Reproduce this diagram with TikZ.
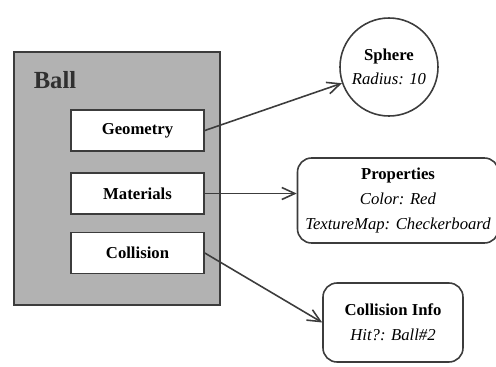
\documentclass[tikz,border=0pt]{standalone}
\usepackage{fontspec}
\setmainfont{Liberation Serif}
\usepackage{tikz}
\usetikzlibrary{
  arrows.meta,
  positioning,
  shapes.geometric
}
\definecolor{inkgray}{RGB}{60,60,60}
\definecolor{ballgray}{RGB}{178,178,178}

\begin{document}
\begin{tikzpicture}[
  part/.style={draw=inkgray, line width=0.9pt, fill=white, minimum width=2.66cm, minimum height=0.82cm, font=\fontsize{9.5}{12}\selectfont\bfseries, inner sep=1pt},
  info/.style={draw=inkgray, line width=0.9pt, rounded corners=8pt, align=center, font=\fontsize{9.5}{14}\selectfont, inner sep=1pt},
  link/.style={draw=inkgray, line width=0.9pt, -{Straight Barb[length=2.6mm, width=2.4mm]}},
]
\useasboundingbox (0,0) rectangle (9.92,-7.32);

% --- Ball object ---
\node[draw=inkgray, line width=1.3pt, fill=ballgray, minimum width=4.12cm, minimum height=5.06cm] (ball) at (2.34,-3.57) {};
\node[font=\fontsize{14}{16}\selectfont\bfseries, text=inkgray!80!black] (balllbl) at (1.10,-1.60) {Ball};
\node[part] (geo) at (2.75,-2.61) {Geometry};
\node[part] (mat) at (2.75,-3.87) {Materials};
\node[part] (col) at (2.75,-5.06) {Collision};

% --- Attached data ---
\node[circle, draw=inkgray, line width=0.9pt, minimum size=1.96cm, align=center, font=\fontsize{9.5}{14}\selectfont, inner sep=0pt] (sphere) at (7.78,-1.34) {\textbf{Sphere}\\\textit{Radius: 10}};
\node[info, minimum width=4.02cm, minimum height=1.70cm] (prop) at (7.96,-4.01) {\textbf{Properties}\\\textit{Color: Red}\\\textit{TextureMap: Checkerboard}};
\node[info, minimum width=2.80cm, minimum height=1.58cm] (hitinfo) at (7.86,-6.45) {\textbf{Collision Info}\\\textit{Hit?: Ball\#2}};

% --- Links ---
\draw[link] (geo.east) -- (sphere);
\draw[link] (mat.east) -- (mat.east -| prop.west);
\draw[link] (col.east) -- (hitinfo.west);
\end{tikzpicture}
\end{document}
